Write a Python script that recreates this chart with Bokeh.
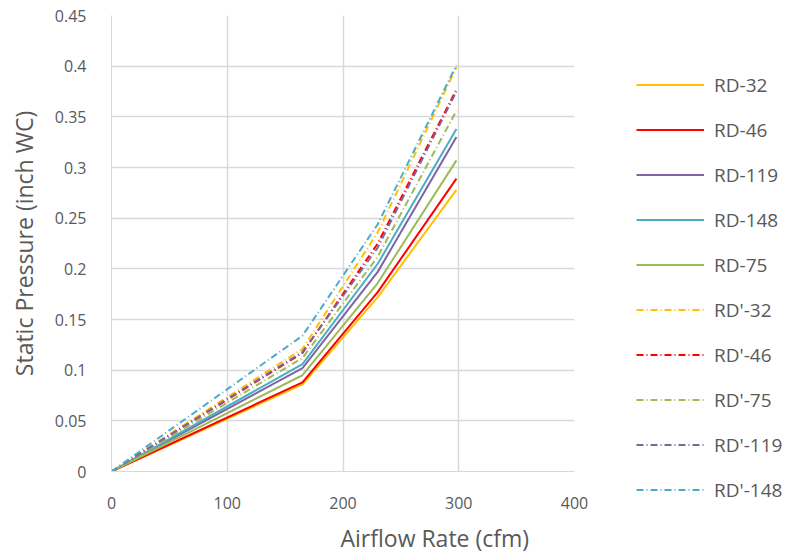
from bokeh.plotting import figure
from bokeh.models import Legend, LegendItem, FixedTicker, Title
from bokeh.embed import file_html
from bokeh.resources import INLINE

airflow = [0, 165, 230, 298]

rd_32 = [0, 0.086, 0.172, 0.278]
rd_46 = [0, 0.088, 0.177, 0.289]
rd_119 = [0, 0.102, 0.197, 0.330]
rd_148 = [0, 0.106, 0.205, 0.338]
rd_75 = [0, 0.095, 0.186, 0.307]
rdp_32 = [0, 0.121, 0.236, 0.399]
rdp_46 = [0, 0.117, 0.225, 0.377]
rdp_75 = [0, 0.112, 0.212, 0.356]
rdp_119 = [0, 0.118, 0.221, 0.375]
rdp_148 = [0, 0.134, 0.244, 0.401]

series = [
    ("RD-32", rd_32, "#FFC000", "solid"),
    ("RD-46", rd_46, "#FF0000", "solid"),
    ("RD-119", rd_119, "#8064A2", "solid"),
    ("RD-148", rd_148, "#4BACC6", "solid"),
    ("RD-75", rd_75, "#9BBB59", "solid"),
    ("RD'-32", rdp_32, "#FFC000", "7 3 1 3"),
    ("RD'-46", rdp_46, "#FF0000", "7 3 1 3"),
    ("RD'-75", rdp_75, "#9BBB59", "7 3 1 3"),
    ("RD'-119", rdp_119, "#8064A2", "7 3 1 3"),
    ("RD'-148", rdp_148, "#4BACC6", "7 3 1 3"),
]

FONT = "Open Sans"
TXT = "#595959"

p = figure(frame_width=463, frame_height=456, output_backend="svg", toolbar_location=None,
           x_range=(0, 400), y_range=(0, 0.45),
           min_border_left=111, min_border_right=0, min_border_top=15, min_border_bottom=0)
p.outline_line_color = None

items = []
for name, ys, col, dash in series:
    r = p.line(airflow, ys, line_color=col, line_width=2, line_dash=dash)
    items.append(LegendItem(label=name, renderers=[r]))

p.xaxis.ticker = FixedTicker(ticks=[0, 100, 200, 300, 400])
p.yaxis.ticker = FixedTicker(ticks=[0, 0.05, 0.1, 0.15, 0.2, 0.25, 0.3, 0.35, 0.4, 0.45])
p.yaxis.major_label_overrides = {0: "0", 0.05: "0.05", 0.1: "0.1", 0.15: "0.15", 0.2: "0.2",
                                 0.25: "0.25", 0.3: "0.3", 0.35: "0.35", 0.4: "0.4", 0.45: "0.45"}
for ax in (p.xaxis[0], p.yaxis[0]):
    ax.axis_line_color = "#D9D9D9"
    ax.major_tick_line_color = None
    ax.minor_tick_line_color = None
    ax.major_label_text_font = FONT
    ax.major_label_text_font_size = "16px"
    ax.major_label_text_color = TXT
    ax.axis_label_text_font = FONT
    ax.axis_label_text_font_size = "23px"
    ax.axis_label_text_font_style = "normal"
    ax.axis_label_text_color = TXT
p.yaxis.axis_label = "Static Pressure (inch WC)"
p.xaxis.major_label_standoff = 19
p.yaxis.major_label_standoff = 19
p.yaxis.axis_label_standoff = 12

xtitle = Title(text="Airflow Rate (cfm)", align="left", offset=229, standoff=16,
               text_font=FONT, text_font_size="23px", text_font_style="normal",
               text_color=TXT)
p.add_layout(xtitle, "below")

p.xgrid.grid_line_color = "#D9D9D9"
p.ygrid.grid_line_color = "#D9D9D9"
p.xgrid.grid_line_width = 1.5
p.ygrid.grid_line_width = 1.5

legend = Legend(items=items, location=(62, -41))
legend.border_line_color = None
legend.background_fill_alpha = 0
legend.padding = 0
legend.margin = 0
legend.spacing = 0
legend.glyph_width = 68
legend.glyph_height = 45
legend.label_height = 45
legend.label_standoff = 10
legend.label_text_font = FONT
legend.label_text_font_size = "19px"
legend.label_text_color = TXT
p.add_layout(legend, "right")

open("out.html", "w").write(file_html(p, INLINE))
